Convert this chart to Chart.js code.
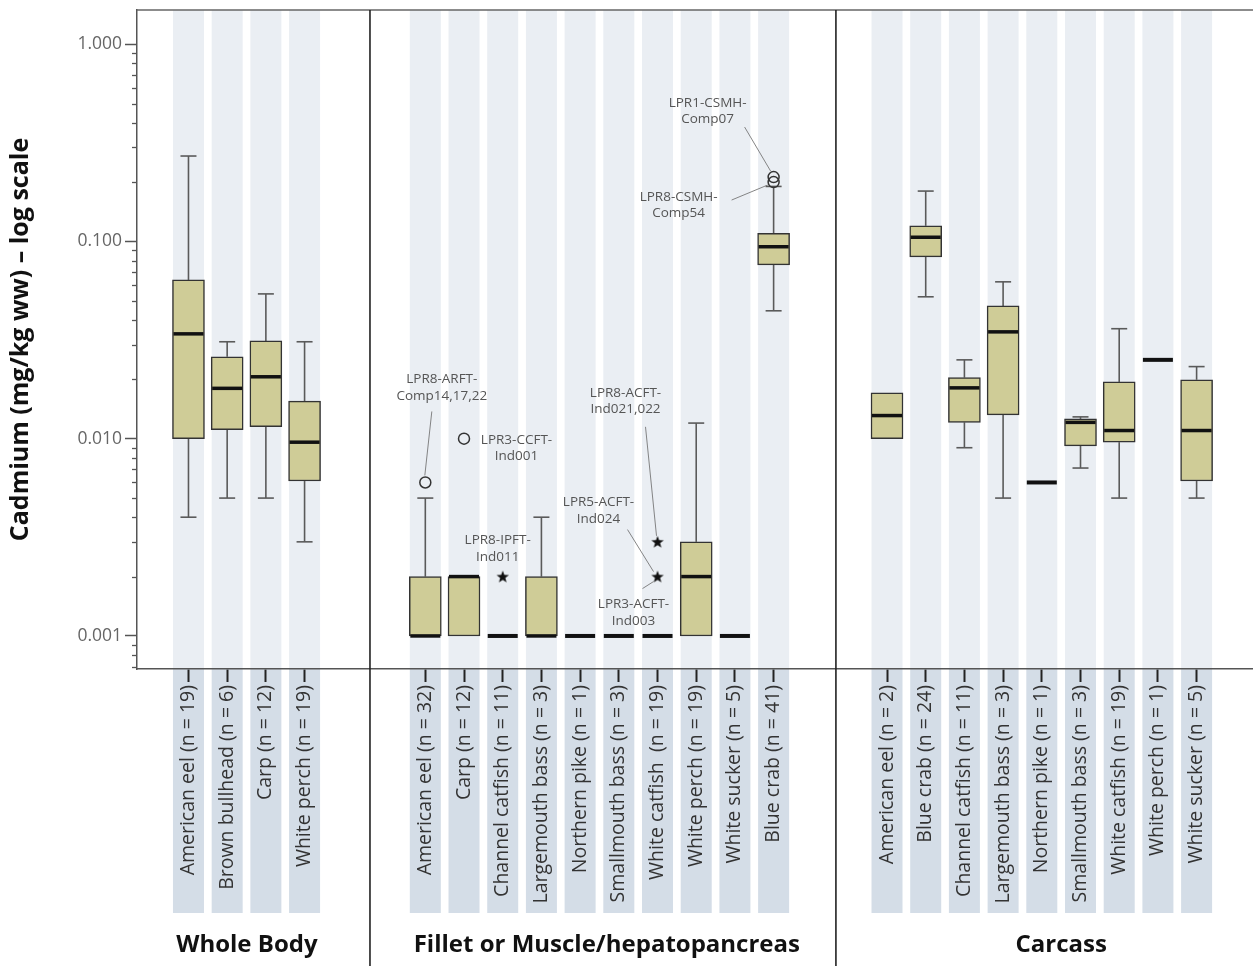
<!DOCTYPE html>
<html><head><meta charset="utf-8">
<script src="https://cdn.jsdelivr.net/npm/chart.js@4.4.1/dist/chart.umd.min.js"></script>
<style>html,body{margin:0;padding:0;background:#fff;overflow:hidden}canvas{display:block}</style>
</head><body>
<canvas id="c" width="1253" height="966"></canvas>
<script>
// ---------------- DATA ----------------
const groupNames = ['Whole Body', 'Fillet or Muscle/hepatopancreas', 'Carcass'];

const wholeBodyLabels = ['American eel (n = 19)', 'Brown bullhead (n = 6)', 'Carp (n = 12)', 'White perch (n = 19)'];
const wbMin = [0.0040, 0.0050, 0.0050, 0.0030];
const wbQ1  = [0.0100, 0.0111, 0.0115, 0.0061];
const wbMed = [0.0340, 0.0180, 0.0206, 0.0096];
const wbQ3  = [0.0638, 0.0260, 0.0313, 0.0155];
const wbMax = [0.2710, 0.0310, 0.0542, 0.0310];

const filletLabels = ['American eel (n = 32)', 'Carp (n = 12)', 'Channel catfish (n = 11)', 'Largemouth bass (n = 3)',
  'Northern pike (n = 1)', 'Smallmouth bass (n = 3)', 'White catfish  (n = 19)', 'White perch (n = 19)',
  'White sucker (n = 5)', 'Blue crab (n = 41)'];
const filMin = [0.001, 0.001, 0.001, 0.001, 0.001, 0.001, 0.001, 0.001, 0.001, 0.0445];
const filQ1  = [0.001, 0.001, 0.001, 0.001, 0.001, 0.001, 0.001, 0.001, 0.001, 0.0760];
const filMed = [0.001, 0.002, 0.001, 0.001, 0.001, 0.001, 0.001, 0.002, 0.001, 0.0940];
const filQ3  = [0.002, 0.002, 0.001, 0.002, 0.001, 0.001, 0.001, 0.003, 0.001, 0.1100];
const filMax = [0.005, 0.002, 0.001, 0.004, 0.001, 0.001, 0.001, 0.012, 0.001, 0.1900];

const carcassLabels = ['American eel (n = 2)', 'Blue crab (n = 24)', 'Channel catfish (n = 11)', 'Largemouth bass (n = 3)',
  'Northern pike (n = 1)', 'Smallmouth bass (n = 3)', 'White catfish (n = 19)', 'White perch (n = 1)', 'White sucker (n = 5)'];
const carMin = [0.0100, 0.0524, 0.0090, 0.0050, 0.0060, 0.0071, 0.0050, 0.0251, 0.0050];
const carQ1  = [0.0100, 0.0835, 0.0121, 0.0132, 0.0060, 0.0092, 0.0096, 0.0251, 0.0061];
const carMed = [0.0131, 0.1050, 0.0181, 0.0348, 0.0060, 0.0121, 0.0110, 0.0251, 0.0110];
const carQ3  = [0.0171, 0.1200, 0.0204, 0.0471, 0.0060, 0.0126, 0.0194, 0.0251, 0.0199];
const carMax = [0.0171, 0.1800, 0.0251, 0.0624, 0.0060, 0.0129, 0.0361, 0.0251, 0.0232];

// outliers (group index, category index within group, value, marker)
const outGroup = [1, 1, 1, 1, 1, 1, 1];
const outIndex = [0, 1, 9, 9, 2, 6, 6];
const outValue = [0.006, 0.010, 0.212, 0.200, 0.002, 0.003, 0.002];
const outShape = ['circle', 'circle', 'circle', 'circle', 'star', 'star', 'star'];
const outLabels = [
  ['LPR8-ARFT-', 'Comp14,17,22'],
  ['LPR3-CCFT-', 'Ind001'],
  ['LPR1-CSMH-', 'Comp07'],
  ['LPR8-CSMH-', 'Comp54'],
  ['LPR8-IPFT-', 'Ind011'],
  ['LPR8-ACFT-', 'Ind021,022'],
  ['LPR5-ACFT-', 'Ind024']
];
const extraLabels = [{ of: 6, text: ['LPR3-ACFT-', 'Ind003'] }];

const yMajorTicks = [0.001, 0.01, 0.1, 1];

// ---------------- LAYOUT (x scale in slot units) ----------------
const UNIT = 38.7;
const X_MAX = 1116 / UNIT;
const groupStart = [1.33, 7.45, 19.38];
const dividerPos = [6.02, 18.06];
const groupLabelPos = [2.84, 12.14, 23.88];
// label offsets (px) from the outlier: [dx, dy, leaderFrom dx,dy, leaderTo dx,dy]
const labelOffsets = [
  [16.5, -103, 6.5, -71, -0.5, -7],
  [52.5, 1, null],
  [-66, -74, -29, -50, -3, -6],
  [-95, 15, -42, 18, -6, 3],
  [-5, -36, null],
  [-32, -149, -12, -115, -1, -6],
  [-59, -74, -30, -47, -4, -5]
];
const extraOffsets = [[-24, 28, -15, 12, -4, 5]];

const FONT = "'Open Sans', 'DejaVu Sans', sans-serif";

const groups = [
  { labels: wholeBodyLabels, min: wbMin, q1: wbQ1, med: wbMed, q3: wbQ3, max: wbMax },
  { labels: filletLabels, min: filMin, q1: filQ1, med: filMed, q3: filQ3, max: filMax },
  { labels: carcassLabels, min: carMin, q1: carQ1, med: carMed, q3: carQ3, max: carMax }
];
const cats = [];
groups.forEach((g, gi) => g.labels.forEach((lab, i) => cats.push({
  x: groupStart[gi] + i, label: lab, min: g.min[i], q1: g.q1[i], med: g.med[i], q3: g.q3[i], max: g.max[i]
})));
const catX = (g, i) => groupStart[g] + i;

// star marker
const starImg = document.createElement('canvas');
starImg.width = 14; starImg.height = 14;
(function () {
  const c = starImg.getContext('2d');
  c.fillStyle = '#111';
  c.beginPath();
  for (let k = 0; k < 10; k++) {
    const r = k % 2 === 0 ? 6.5 : 2.7;
    const a = -Math.PI / 2 + k * Math.PI / 5;
    const px = 7 + r * Math.cos(a), py = 7.5 + r * Math.sin(a);
    if (k === 0) c.moveTo(px, py); else c.lineTo(px, py);
  }
  c.closePath(); c.fill();
})();

const circleData = [], starData = [];
outValue.forEach((v, k) => {
  const p = { x: catX(outGroup[k], outIndex[k]), y: v };
  (outShape[k] === 'circle' ? circleData : starData).push(p);
});

const decor = {
  id: 'decor',
  beforeDraw(chart) {
    const { ctx, chartArea: a, scales: { x } } = chart;
    ctx.save();
    cats.forEach(c => {
      const px = x.getPixelForValue(c.x);
      ctx.fillStyle = '#eaeef3';
      ctx.fillRect(px - 15.5, a.top, 31, a.bottom - a.top);
      ctx.fillStyle = '#d4dde7';
      ctx.fillRect(px - 15.5, a.bottom, 31, 913 - a.bottom);
    });
    ctx.restore();
  },
  beforeDatasetsDraw(chart) {
    const { ctx, scales: { x, y } } = chart;
    ctx.save();
    ctx.strokeStyle = '#5a5a5a';
    ctx.lineWidth = 1.6;
    cats.forEach(c => {
      const px = x.getPixelForValue(c.x);
      const seg = (v0, v1) => {
        if (v0 === v1) return;
        const y0 = y.getPixelForValue(v0), y1 = y.getPixelForValue(v1);
        ctx.beginPath(); ctx.moveTo(px, y0); ctx.lineTo(px, y1); ctx.stroke();
        ctx.beginPath(); ctx.moveTo(px - 8, y1); ctx.lineTo(px + 8, y1); ctx.stroke();
      };
      seg(c.q3, c.max);
      seg(c.q1, c.min);
    });
    ctx.restore();
  },
  afterDatasetsDraw(chart) {
    const { ctx, scales: { x, y } } = chart;
    ctx.save();
    ctx.strokeStyle = '#111';
    cats.forEach(c => {
      const px = x.getPixelForValue(c.x);
      const py = y.getPixelForValue(c.med);
      const flat = c.q1 === c.q3;
      ctx.lineWidth = flat ? 4 : 3.5;
      ctx.beginPath();
      ctx.moveTo(px - 15, py); ctx.lineTo(px + 15, py); ctx.stroke();
    });
    ctx.restore();
  },
  afterDraw(chart) {
    const { ctx, chartArea: a, scales: { x, y } } = chart;
    ctx.save();
    // minor y ticks
    ctx.strokeStyle = '#555'; ctx.lineWidth = 1.3;
    for (let e = -4; e <= 0; e++) {
      for (let m = 2; m <= 9; m++) {
        const v = m * Math.pow(10, e);
        if (v < y.min || v > y.max) continue;
        const py = Math.round(y.getPixelForValue(v)) + 0.5;
        ctx.beginPath(); ctx.moveTo(a.left - 5, py); ctx.lineTo(a.left, py); ctx.stroke();
      }
    }
    // top frame
    ctx.strokeStyle = '#666'; ctx.lineWidth = 1.5;
    ctx.beginPath(); ctx.moveTo(a.left, a.top); ctx.lineTo(a.right, a.top); ctx.stroke();
    // dividers
    ctx.strokeStyle = '#222'; ctx.lineWidth = 1.6;
    dividerPos.forEach(d => {
      const px = x.getPixelForValue(d);
      ctx.beginPath(); ctx.moveTo(px, a.top); ctx.lineTo(px, chart.height); ctx.stroke();
    });
    // group labels
    ctx.fillStyle = '#111';
    ctx.font = "bold 24px " + FONT;
    ctx.textAlign = 'center'; ctx.textBaseline = 'middle';
    groupNames.forEach((n, i) => ctx.fillText(n, x.getPixelForValue(groupLabelPos[i]), 945));
    // annotations
    ctx.font = "13.5px " + FONT;
    ctx.fillStyle = '#555';
    const drawLabel = (k, text, off) => {
      const px = x.getPixelForValue(catX(outGroup[k], outIndex[k]));
      const py = y.getPixelForValue(outValue[k]);
      text.forEach((t, j) => ctx.fillText(t, px + off[0], py + off[1] + j * 16.5));
      if (off[2] !== null && off.length > 3) {
        ctx.strokeStyle = '#777'; ctx.lineWidth = 0.9;
        ctx.beginPath(); ctx.moveTo(px + off[2], py + off[3]); ctx.lineTo(px + off[4], py + off[5]); ctx.stroke();
      }
    };
    outLabels.forEach((t, k) => drawLabel(k, t, labelOffsets[k]));
    extraLabels.forEach((e, j) => drawLabel(e.of, e.text, extraOffsets[j]));
    ctx.restore();
  }
};

new Chart(document.getElementById('c'), {
  type: 'bar',
  data: {
    datasets: [
      {
        type: 'scatter', data: circleData, pointStyle: 'circle', pointRadius: 5.5,
        borderColor: '#333', borderWidth: 1.5, backgroundColor: 'rgba(0,0,0,0)'
      },
      {
        type: 'scatter', data: starData, pointStyle: starImg, pointRadius: 7
      },
      {
        type: 'bar',
        data: cats.map(c => ({ x: c.x, y: [c.q1, c.q3] })),
        backgroundColor: '#cfcc97', borderColor: '#333', borderWidth: 1.5,
        borderSkipped: false, barThickness: 32, grouped: false
      }
    ]
  },
  options: {
    responsive: false,
    animation: false,
    layout: { autoPadding: false, padding: { top: 10, right: 0, left: 0, bottom: 0 } },
    plugins: { legend: { display: false }, tooltip: { enabled: false } },
    scales: {
      x: {
        type: 'linear', min: 0, max: X_MAX, offset: false,
        afterBuildTicks: s => { s.ticks = cats.map(c => ({ value: c.x })); },
        afterFit: s => { s.height = 297; s.paddingLeft = 0; s.paddingRight = 0; },
        grid: { drawOnChartArea: false, offset: false, tickLength: 13, tickColor: '#222', tickWidth: 2 },
        border: { color: '#555', width: 1.5 },
        ticks: {
          autoSkip: false, minRotation: 90, maxRotation: 90, padding: 3,
          color: '#333', font: { family: FONT, size: 19.5 },
          callback: (v, i) => cats[i] ? cats[i].label : ''
        }
      },
      y: {
        type: 'logarithmic', min: 0.00068, max: 1.49,
        afterBuildTicks: s => { s.ticks = yMajorTicks.map(v => ({ value: v })); },
        afterFit: s => { s.width = 137; s.paddingTop = 0; s.paddingBottom = 0; },
        grid: { drawOnChartArea: false, tickLength: 12, tickColor: '#555', tickWidth: 1.5 },
        border: { color: '#555', width: 1.5 },
        ticks: {
          color: '#666', padding: 3, font: { family: FONT, size: 17.5 },
          callback: v => Number(v).toFixed(3)
        },
        title: {
          display: true, text: 'Cadmium (mg/kg ww) – log scale', color: '#111',
          font: { family: FONT, size: 25, weight: 'bold' }, padding: { top: 6, bottom: 0 }
        }
      }
    }
  },
  plugins: [decor]
});
</script>
</body></html>
